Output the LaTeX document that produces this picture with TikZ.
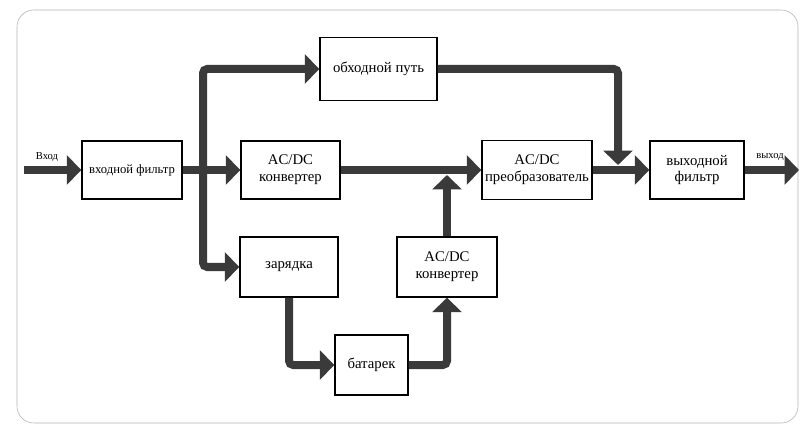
\documentclass[tikz,border=0pt]{standalone}
\usepackage{fontspec}
\setmainfont{Liberation Serif}
\usetikzlibrary{arrows.meta, positioning}
\definecolor{pipe}{HTML}{3A3A3A}

\begin{document}
\begin{tikzpicture}[
  x=0.025cm, y=-0.025cm,
  blk/.style={rectangle, draw, line width=1pt, fill=white, align=center,
              inner sep=1pt, font=\fontsize{10.5}{12}\selectfont},
  tag/.style={font=\fontsize{7.5}{8}\selectfont},
  arr/.style={-{Triangle[length=0.36cm, width=0.72cm]}, line width=0.2cm,
              draw=pipe, rounded corners=3pt}
]
  \useasboundingbox (0,0) rectangle (800,425);
  \draw[gray!60, rounded corners=12pt] (17,10) rectangle (798,423);

  \node[blk, minimum width=2.5cm, minimum height=1.45cm,
        font=\fontsize{9}{11}\selectfont] (infilt) at (132,170) {входной фильтр};
  \node[blk, minimum width=2.925cm, minimum height=1.575cm] (bypass) at (378.5,69) {обходной путь};
  \node[blk, minimum width=2.475cm, minimum height=1.45cm] (conv1) at (290.5,170) {AC/DC\\конвертер};
  \node[blk, minimum width=2.75cm, minimum height=1.475cm] (inv) at (537,170) {AC/DC\\преобразователь};
  \node[blk, minimum width=2.35cm, minimum height=1.45cm] (outfilt) at (697,170) {выходной\\фильтр};
  \node[blk, minimum width=2.45cm, minimum height=1.5cm] (charge) at (289,267) {зарядка};
  \node[blk, minimum width=1.825cm, minimum height=1.5cm] (batt) at (371.5,365) {батарек};
  \node[blk, minimum width=2.5cm, minimum height=1.5cm] (conv2) at (447,267) {AC/DC\\конвертер};

  % Ends of the pipes
  \coordinate (in) at (24,170);
  \coordinate (out) at (799,170);
  \coordinate (split) at (203,170);
  \coordinate (join) at (447,175);
  \coordinate (drop) at (618,165);

  \node[tag] (inlbl) at (47,157) {Вход};
  \node[tag] (outlbl) at (770,157) {выход};

  \draw[arr] (in) -- (infilt.west);
  \draw[arr] (infilt.east) -- (conv1.west);
  \draw[arr] (split) |- (bypass.west);
  \draw[arr] (split) |- (charge.west);
  \draw[arr] (conv1.east) -- (inv.west);
  \draw[arr] (conv2.north) -- (join);
  \draw[arr] (bypass.east) -| (drop);
  \draw[arr] (inv.east) -- (outfilt.west);
  \draw[arr] (outfilt.east) -- (out);
  \draw[arr] (charge.south) |- (batt.west);
  \draw[arr] (batt.east) -| (conv2.south);
\end{tikzpicture}
\end{document}
